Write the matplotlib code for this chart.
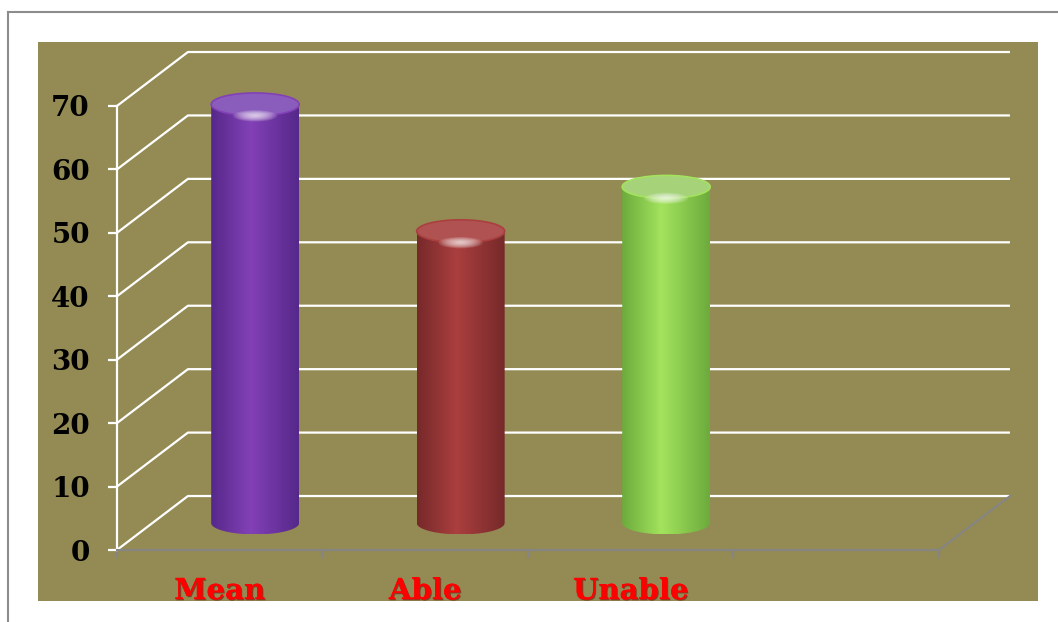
import numpy as np
import matplotlib.pyplot as plt
from matplotlib.colors import LinearSegmentedColormap
from matplotlib.patches import Ellipse, PathPatch
from matplotlib.path import Path
from matplotlib.lines import Line2D
import matplotlib.patheffects as pe

# chart data
categories = ['Mean', 'Able', 'Unable']
values = [66, 46, 53]
n_slots = 4
yticks = list(range(0, 80, 10))

# cylinder colours (dark edge, bright middle, top face)
bar_dark = ['#56288a', '#76292a', '#6cab3c']
bar_light = ['#8241b6', '#ab3f3f', '#a3e35d']
bar_top = ['#8a5cbc', '#b05252', '#a6d27a']

olive = '#948a54'
W, H = 1058, 622

fig = plt.figure(figsize=(W / 100, H / 100), dpi=100)

# thin grey frame (left and top only visible)
fig.add_artist(Line2D([8 / W, 8 / W], [0, 1 - 12 / H], color='#8c8c8c', lw=1.5))
fig.add_artist(Line2D([8 / W, 1], [1 - 12 / H, 1 - 12 / H], color='#8c8c8c', lw=1.5))

ax = fig.add_axes([38 / W, 21 / H, 1000 / W, 559 / H])
ax.set_facecolor(olive)

# depth offset of the back wall (in data units)
dx, dy = 0.3455, 8.51
xback = n_slots + dx

# gridlines: front axis -> back wall -> right
for v in yticks:
    ax.plot([0, dx, xback], [v, v + dy, v + dy], color='white', lw=1.6,
            solid_capstyle='butt', zorder=1)
# right floor edge
ax.plot([n_slots, xback], [0, dy], color='#858585', lw=1.5, zorder=1)

# cylinders
w = 0.428
hw = w / 2
eh = 3.6
base = dy / 2
grad = np.linspace(0, 1, 256).reshape(1, -1)
for i, v in enumerate(values):
    cx = i + 0.5 + dx / 2
    top = v + dy / 2
    t = np.linspace(np.pi, 2 * np.pi, 80)
    xs = list(cx + hw * np.cos(t)) + [cx + hw, cx - hw, cx - hw]
    ys = list(base + eh / 2 * np.sin(t)) + [top, top, base]
    body = PathPatch(Path(np.column_stack([xs, ys])), fc='none', ec='none')
    ax.add_patch(body)
    cmap = LinearSegmentedColormap.from_list(
        'c%d' % i, [(0, bar_dark[i]), (0.45, bar_light[i]), (1, bar_dark[i])])
    img = ax.imshow(grad, extent=[cx - hw, cx + hw, base - eh / 2, top],
                    aspect='auto', cmap=cmap, interpolation='bilinear', zorder=3)
    img.set_clip_path(body)
    ax.add_patch(Ellipse((cx, top), w, eh, fc=bar_top[i], ec=bar_light[i],
                         lw=1.2, zorder=4))
    # specular highlight near the front rim
    for k in range(9):
        s = 1 - k / 9
        ax.add_patch(Ellipse((cx, top - eh * 0.5), w * 0.5 * s, eh * 0.5 * s,
                             fc='white', ec='none', alpha=0.13, zorder=5))

# category labels, clipped at the plot edge
for i, c in enumerate(categories):
    ax.text(i + 0.5, -7.75, c, ha='center', va='baseline', color='red',
            fontsize=21, fontweight='bold', family='DejaVu Serif', clip_on=True,
            path_effects=[pe.withSimplePatchShadow(offset=(0.8, -0.8),
                                                   shadow_rgbFace='#600000',
                                                   alpha=0.5), pe.Normal()],
            zorder=6)

# axes styling
for s in ['top', 'right']:
    ax.spines[s].set_visible(False)
ax.spines['left'].set_position(('data', 0))
ax.spines['left'].set_bounds(0, 70)
ax.spines['left'].set_color('white')
ax.spines['left'].set_linewidth(1.6)
ax.spines['bottom'].set_position(('data', 0))
ax.spines['bottom'].set_bounds(0, n_slots)
ax.spines['bottom'].set_color('#858585')
ax.spines['bottom'].set_linewidth(1.5)

ax.set_yticks(yticks)
ax.set_yticklabels([str(v) for v in yticks], fontsize=20, fontweight='bold',
                   family='DejaVu Serif')
ax.tick_params(axis='y', colors='white', length=6.5, width=1.6, pad=13,
               labelcolor='black')
ax.set_xticks(range(n_slots + 1))
ax.set_xticklabels([])
ax.tick_params(axis='x', colors='#858585', length=6, width=1.5)

ax.set_xlim(-0.384, 4.482)
ax.set_ylim(-8.04, 80.09)

fig.savefig('out.png', dpi=100, facecolor='white')
